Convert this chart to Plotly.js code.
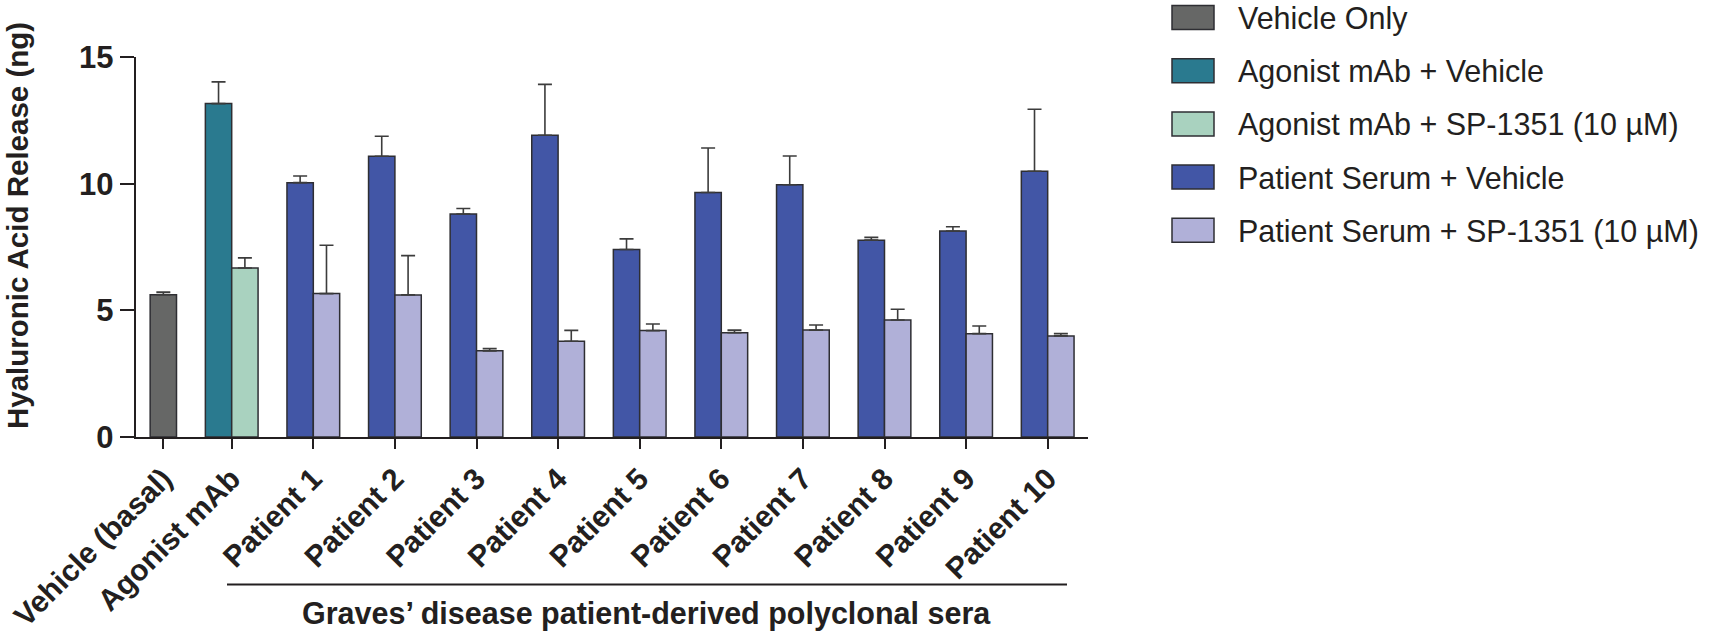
<!DOCTYPE html>
<html>
<head>
<meta charset="utf-8">
<script src="https://cdn.plot.ly/plotly-3.0.1.min.js"></script>
<style>
  html, body { margin: 0; padding: 0; background: #ffffff; }
  #chart { width: 1709px; height: 636px; }
</style>
</head>
<body>
<div id="chart"></div>
<script>
// ---------- data ----------
const categories = ["Vehicle (basal)", "Agonist mAb", "Patient 1", "Patient 2", "Patient 3",
  "Patient 4", "Patient 5", "Patient 6", "Patient 7", "Patient 8", "Patient 9", "Patient 10"];

const seriesNames = ["Vehicle Only", "Agonist mAb + Vehicle", "Agonist mAb + SP-1351 (10 µM)",
  "Patient Serum + Vehicle", "Patient Serum + SP-1351 (10 µM)"];

const vehicleOnly = [5.62];
const vehicleOnlyErr = [0.10];

const agonistVehicle = [13.16];
const agonistVehicleErr = [0.86];

const agonistSP = [6.67];
const agonistSPErr = [0.40];

const patientVehicle = [10.04, 11.08, 8.80, 11.91, 7.40, 9.65, 9.96, 7.77, 8.13, 10.49];
const patientVehicleErr = [0.26, 0.79, 0.22, 2.01, 0.42, 1.76, 1.13, 0.11, 0.17, 2.45];

const patientSP = [5.66, 5.61, 3.40, 3.78, 4.20, 4.12, 4.22, 4.62, 4.08, 3.99];
const patientSPErr = [1.91, 1.55, 0.09, 0.43, 0.26, 0.10, 0.20, 0.42, 0.30, 0.09];

const yTicks = [0, 5, 10, 15];
const bracketLabel = "Graves’ disease patient-derived polyclonal sera";
const yTitle = "Hyaluronic Acid Release (ng)";

// ---------- style / layout ----------
const colors = ["#666766", "#2a7a8f", "#a9d2bf", "#4256a6", "#b0b0d8"];
const outline = "#2e2e33";
const errColor = "#3c3c3c";
const ink = "#231f20";
const FONT = "Liberation Sans, Arial, sans-serif";
const W = 0.323;          // bar width (category units)
const firstGap = 0.838;   // basal group sits closer to the next group

// category positions: first group slightly closer than the others
const pos = categories.map((c, i) => i === 0 ? -firstGap : i - 1);

// plot frame in pixels
const L = 136, R = 1088, T = 57, B = 437, H = 636, WID = 1709;
const xMin = -1.173, xMax = 10.494;
const pxToPaperX = px => (px - L) / (R - L);
const pyToPaperY = py => (B - py) / (B - T);
const pxToDataX = px => xMin + (px - L) / (R - L) * (xMax - xMin);

function barTrace(name, x, y, err, color, offset) {
  return {
    type: "bar", name: name, x: x, y: y,
    width: W, offset: offset,
    marker: { color: color, line: { color: outline, width: 1.5 } },
    error_y: { type: "data", symmetric: false, array: err, arrayminus: err.map(() => 0),
               color: errColor, thickness: 1.6, width: 7 },
    showlegend: false, hoverinfo: "x+y"
  };
}

const traces = [
  barTrace(seriesNames[0], [pos[0]], vehicleOnly, vehicleOnlyErr, colors[0], -W / 2),
  barTrace(seriesNames[1], [pos[1]], agonistVehicle, agonistVehicleErr, colors[1], -W),
  barTrace(seriesNames[2], [pos[1]], agonistSP, agonistSPErr, colors[2], 0),
  barTrace(seriesNames[3], pos.slice(2), patientVehicle, patientVehicleErr, colors[3], -W),
  barTrace(seriesNames[4], pos.slice(2), patientSP, patientSPErr, colors[4], 0)
];

// custom legend (large swatches like the original)
const legendCentersY = [17.5, 70.7, 123.9, 177.1, 230.3];
const shapes = [];
const annotations = [];
seriesNames.forEach((n, i) => {
  const cy = legendCentersY[i];
  shapes.push({
    type: "rect", xref: "paper", yref: "paper",
    x0: pxToPaperX(1172), x1: pxToPaperX(1214),
    y0: pyToPaperY(cy + 12), y1: pyToPaperY(cy - 12),
    fillcolor: colors[i], line: { color: outline, width: 1.5 }
  });
  annotations.push({
    xref: "paper", yref: "paper", x: pxToPaperX(1236), y: pyToPaperY(cy + 1),
    xanchor: "left", yanchor: "middle", showarrow: false, text: n,
    font: { family: FONT, size: 30.5, color: ink }
  });
});

// bracket under patient groups
shapes.push({
  type: "line", xref: "x", yref: "paper",
  x0: pxToDataX(227), x1: pxToDataX(1067),
  y0: pyToPaperY(584.5), y1: pyToPaperY(584.5),
  line: { color: ink, width: 2.2 }
});
annotations.push({
  xref: "x", yref: "paper", x: pxToDataX(646.5), y: pyToPaperY(613),
  xanchor: "center", yanchor: "middle", showarrow: false, text: "<b>" + bracketLabel + "</b>",
  font: { family: FONT, size: 30.5, color: ink }
});
// y-axis title
annotations.push({
  xref: "paper", yref: "paper", x: pxToPaperX(17), y: pyToPaperY(226),
  xanchor: "center", yanchor: "middle", showarrow: false, text: "<b>" + yTitle + "</b>",
  textangle: -90,
  font: { family: FONT, size: 29.5, color: ink }
});

const layout = {
  width: WID, height: H,
  margin: { l: L, r: WID - R, t: T, b: H - B, pad: 0 },
  paper_bgcolor: "#ffffff", plot_bgcolor: "#ffffff",
  barmode: "overlay",
  showlegend: false,
  font: { family: FONT, color: ink },
  xaxis: {
    range: [xMin, xMax], tickmode: "array", tickvals: pos,
    ticktext: categories.map(c => "<b>" + c + "</b>"),
    tickangle: -45, ticks: "outside", ticklen: 10, tickwidth: 2, tickcolor: ink,
    showline: true, linewidth: 2.2, linecolor: ink, showgrid: false, zeroline: false,
    tickfont: { size: 30, color: ink }, fixedrange: true
  },
  yaxis: {
    range: [0, 15], tickmode: "array", tickvals: yTicks, ticktext: yTicks.map(v => "<b>" + v + "</b>"),
    ticks: "outside", ticklen: 14, tickwidth: 2, tickcolor: ink,
    showline: true, linewidth: 2.2, linecolor: ink, showgrid: false, zeroline: false,
    tickfont: { size: 31, color: ink }, fixedrange: true
  },
  shapes: shapes,
  annotations: annotations
};

Plotly.newPlot("chart", traces, layout, { staticPlot: true, displayModeBar: false });
</script>
</body>
</html>
